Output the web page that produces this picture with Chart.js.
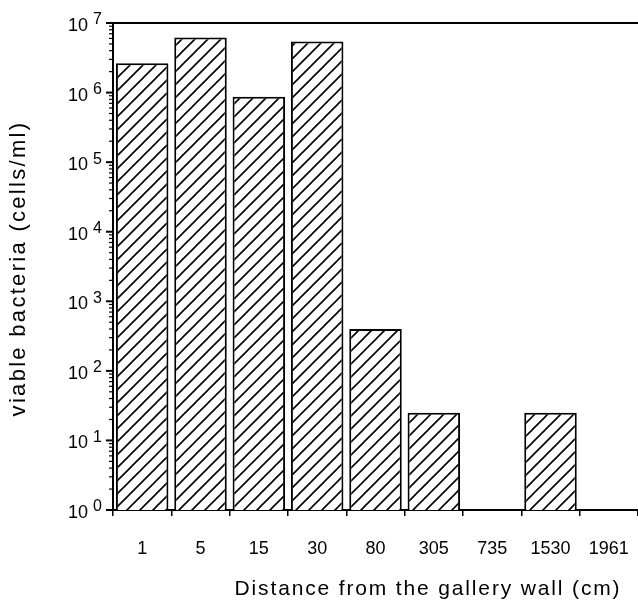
<!DOCTYPE html>
<html>
<head>
<meta charset="utf-8">
<script src="https://cdn.jsdelivr.net/npm/chart.js@4"></script>
<style>
html,body{margin:0;padding:0;background:#fff;}
canvas{display:block;}
</style>
</head>
<body>
<canvas id="c" width="638" height="601"></canvas>
<script>
const categories = ['1', '5', '15', '30', '80', '305', '735', '1530', '1961'];
const viableBacteria = [2.64e6, 6.2e6, 8.7e5, 5.4e6, 400, 25, null, 25, null];
const yTickExponents = [0, 1, 2, 3, 4, 5, 6, 7];
const xTitle = 'Distance from the gallery wall (cm)';
const yTitle = 'viable bacteria (cells/ml)';

const FONT = '"Liberation Sans", Arial, Helvetica, sans-serif';

function makeHatch() {
  const s = 13;
  const c = document.createElement('canvas');
  c.width = s; c.height = s;
  const g = c.getContext('2d');
  g.fillStyle = '#fff';
  g.fillRect(0, 0, s, s);
  g.strokeStyle = '#000';
  g.lineWidth = 1.6;
  g.beginPath();
  g.moveTo(-1, s + 1); g.lineTo(s + 1, -1);
  g.moveTo(-2, 2); g.lineTo(2, -2);
  g.moveTo(s - 2, s + 2); g.lineTo(s + 2, s - 2);
  g.stroke();
  return g.createPattern(c, 'repeat');
}

const decorPlugin = {
  id: 'decor',
  afterDraw(chart) {
    const ctx = chart.ctx;
    const y = chart.scales.y;
    const area = chart.chartArea;
    ctx.save();
    ctx.strokeStyle = '#000';
    ctx.fillStyle = '#000';
    // top frame line
    ctx.lineWidth = 2;
    ctx.beginPath();
    ctx.moveTo(area.left - 1, area.top);
    ctx.lineTo(area.right, area.top);
    ctx.stroke();
    // y ticks
    const ax = area.left;
    for (let i = 0; i < yTickExponents.length; i++) {
      const e = yTickExponents[i];
      const py = y.getPixelForValue(Math.pow(10, e));
      ctx.lineWidth = 2;
      ctx.beginPath();
      ctx.moveTo(ax - 7, py);
      ctx.lineTo(ax, py);
      ctx.stroke();
      if (i < yTickExponents.length - 1) {
        ctx.lineWidth = 1.2;
        for (let m = 2; m <= 9; m++) {
          const my = y.getPixelForValue(m * Math.pow(10, e));
          ctx.beginPath();
          ctx.moveTo(ax - 4, my);
          ctx.lineTo(ax, my);
          ctx.stroke();
        }
      }
      // labels
      ctx.textBaseline = 'middle';
      ctx.textAlign = 'right';
      ctx.font = '18px ' + FONT;
      ctx.fillText('10', 88, py + 3);
      ctx.textAlign = 'left';
      ctx.font = '16px ' + FONT;
      ctx.fillText(String(e), 93, py - 3);
    }
    // x title
    ctx.font = '21px ' + FONT;
    ctx.letterSpacing = '1.85px';
    ctx.textAlign = 'center';
    ctx.textBaseline = 'alphabetic';
    ctx.fillText(xTitle, 428, 595);
    // y title
    ctx.font = '22px ' + FONT;
    ctx.letterSpacing = '2.3px';
    ctx.translate(25, 268.5);
    ctx.rotate(-Math.PI / 2);
    ctx.fillText(yTitle, 0, 0);
    ctx.restore();
  }
};

new Chart(document.getElementById('c'), {
  type: 'bar',
  data: {
    labels: categories,
    datasets: [{
      data: viableBacteria,
      backgroundColor: makeHatch(),
      borderColor: '#000',
      borderWidth: 2,
      borderSkipped: 'start',
      barPercentage: 0.9,
      categoryPercentage: 1.0
    }]
  },
  options: {
    responsive: false,
    devicePixelRatio: 1,
    animation: false,
    layout: { padding: { top: 23, right: 0, left: 0, bottom: 0 } },
    plugins: { legend: { display: false }, tooltip: { enabled: false }, title: { display: false } },
    scales: {
      x: {
        type: 'category',
        grid: { display: true, drawOnChartArea: false, drawTicks: true, tickLength: 6, color: '#000', lineWidth: 1.5, offset: true },
        border: { display: true, color: '#000', width: 2 },
        ticks: { color: '#000', font: { size: 18, family: FONT }, padding: 22, maxRotation: 0, autoSkip: false },
        afterFit(s) { s.height = 91; s.paddingLeft = 0; s.paddingRight = 0; }
      },
      y: {
        type: 'logarithmic',
        min: 1,
        max: 1e7,
        grid: { display: false },
        border: { display: true, color: '#000', width: 2 },
        ticks: { display: false },
        afterFit(s) { s.width = 113; s.paddingTop = 0; s.paddingBottom = 0; }
      }
    }
  },
  plugins: [decorPlugin]
});
</script>
</body>
</html>
